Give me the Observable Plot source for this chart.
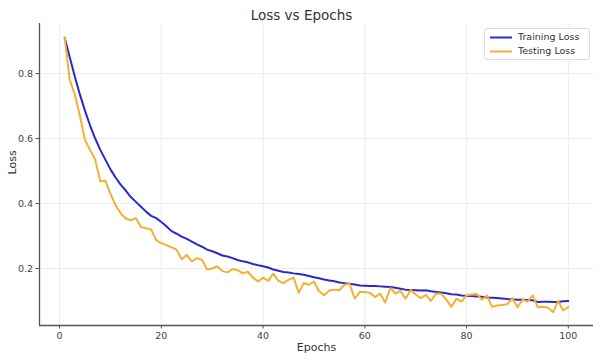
<!DOCTYPE html>
<html><head><meta charset="utf-8">
<script src="https://cdn.jsdelivr.net/npm/d3@7"></script>
<script src="https://cdn.jsdelivr.net/npm/@observablehq/plot@0.6"></script>
<style>
body{margin:0;background:#fff;font-family:"DejaVu Sans",sans-serif;}
#wrap{position:relative;width:603px;height:360px;overflow:hidden;}
#title{position:absolute;left:0;width:603px;top:6px;line-height:18px;text-align:center;font-size:13.5px;color:#333;}
#legend{position:absolute;left:484px;top:28px;width:104px;height:30px;border:1px solid #dcdcdc;border-radius:3px;background:rgba(255,255,255,0.9);font-size:9.5px;color:#333;}
.item{position:absolute;left:4px;height:14px;line-height:14px;white-space:nowrap;}
.item svg{position:absolute;left:0;top:6px;}
.item span{position:absolute;left:29px;top:0;}
</style></head><body>
<div id="wrap"><div id="chart"></div><div id="title"></div><div id="legend"></div></div>
<script>
const titleText = "Loss vs Epochs";
const xLabel = "Epochs";
const yLabel = "Loss";
const seriesNames = ["Training Loss", "Testing Loss"];
const seriesColors = ["#2a2ac8", "#f3b133"];
const xTicks = [0, 20, 40, 60, 80, 100];
const yTicks = [0.2, 0.4, 0.6, 0.8];
const epochs = d3.range(1, 101);
const trainingLoss = [
0.91,0.85,0.79,0.735,0.685,0.64,0.60,0.565,0.535,0.505,
0.48,0.458,0.44,0.42,0.405,0.39,0.375,0.362,0.355,0.343,
0.33,0.315,0.307,0.298,0.291,0.283,0.274,0.267,0.258,0.253,
0.247,0.24,0.237,0.232,0.226,0.222,0.219,0.214,0.21,0.207,
0.203,0.197,0.193,0.189,0.188,0.185,0.183,0.181,0.177,0.173,
0.17,0.166,0.163,0.161,0.157,0.155,0.153,0.151,0.148,0.147,
0.146,0.146,0.145,0.144,0.143,0.141,0.138,0.135,0.134,0.133,
0.132,0.133,0.13,0.128,0.126,0.124,0.121,0.12,0.117,0.116,
0.115,0.114,0.113,0.111,0.11,0.109,0.108,0.106,0.105,0.104,
0.104,0.103,0.102,0.097,0.098,0.098,0.097,0.097,0.099,0.10];
const testingLoss = [
0.91,0.78,0.735,0.67,0.595,0.565,0.535,0.468,0.47,0.43,
0.395,0.37,0.354,0.348,0.355,0.328,0.324,0.32,0.287,0.278,
0.272,0.265,0.258,0.228,0.242,0.222,0.232,0.226,0.197,0.2,
0.207,0.192,0.188,0.198,0.195,0.185,0.19,0.172,0.16,0.172,
0.162,0.184,0.162,0.155,0.165,0.172,0.125,0.155,0.15,0.16,
0.13,0.118,0.132,0.135,0.134,0.15,0.153,0.107,0.128,0.128,
0.125,0.112,0.123,0.095,0.14,0.123,0.131,0.107,0.134,0.12,
0.109,0.119,0.10,0.123,0.122,0.105,0.082,0.107,0.098,0.118,
0.12,0.122,0.104,0.117,0.082,0.086,0.088,0.09,0.109,0.081,
0.104,0.098,0.117,0.081,0.082,0.079,0.066,0.10,0.071,0.081];

const xDomain = [-3.95, 104.95];
const yDomain = [0.0246, 0.954];

const rows = [];
epochs.forEach((e, i) => {
  rows.push({epoch: e, loss: trainingLoss[i], series: seriesNames[0]});
  rows.push({epoch: e, loss: testingLoss[i], series: seriesNames[1]});
});

const axisColor = "#555";
const chart = Plot.plot({
  width: 603, height: 360,
  marginLeft: 39, marginRight: 10, marginTop: 23, marginBottom: 35,
  style: {fontFamily: "DejaVu Sans, sans-serif", background: "#fff", color: "#444"},
  x: {domain: xDomain, ticks: xTicks},
  y: {domain: yDomain, ticks: yTicks},
  color: {domain: seriesNames, range: seriesColors},
  marks: [
    Plot.gridX(xTicks, {stroke: "#e6e6e6", strokeOpacity: 1, strokeWidth: 0.8}),
    Plot.gridY(yTicks, {stroke: "#e6e6e6", strokeOpacity: 1, strokeWidth: 0.8}),
    Plot.line(rows, {x: "epoch", y: "loss", z: "series", stroke: "series", strokeWidth: 2, strokeLinejoin: "round"}),
    Plot.ruleX([xDomain[0]], {stroke: axisColor, strokeWidth: 1.3}),
    Plot.ruleY([yDomain[0]], {stroke: axisColor, strokeWidth: 1.3}),
    Plot.axisX(xTicks, {tickSize: 3.5, tickPadding: 3, fontSize: 9.5, stroke: axisColor, fill: "#444", label: null}),
    Plot.axisY(yTicks, {tickSize: 3.5, tickPadding: 3, fontSize: 9.5, stroke: axisColor, fill: "#444", label: null, tickFormat: d3.format(".1f")}),
    Plot.text([xLabel], {frameAnchor: "bottom", dy: 22, lineAnchor: "middle", fontSize: 11, fill: "#333"}),
    Plot.text([yLabel], {frameAnchor: "left", dx: -27, rotate: -90, lineAnchor: "middle", fontSize: 11, fill: "#333"})
  ]
});
document.getElementById("chart").appendChild(chart);
document.getElementById("title").textContent = titleText;

const legend = document.getElementById("legend");
seriesNames.forEach((name, i) => {
  const item = document.createElement("div");
  item.className = "item";
  item.style.top = (1 + i * 14) + "px";
  item.innerHTML = `<svg width="24" height="3"><line x1="1" y1="1.5" x2="23" y2="1.5" stroke="${seriesColors[i]}" stroke-width="2"/></svg><span></span>`;
  item.querySelector("span").textContent = name;
  legend.appendChild(item);
});
</script>
</body></html>
